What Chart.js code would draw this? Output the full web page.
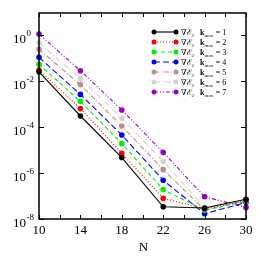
<!DOCTYPE html>
<html>
<head>
<meta charset="UTF-8">
<script src="https://cdn.jsdelivr.net/npm/chart.js"></script>
<style>
    html, body { margin: 0; padding: 0; background: #fff; }
    #wrap { width: 258px; height: 258px; }
</style>
</head>
<body>
<div id="wrap"><canvas id="c" width="258" height="258"></canvas></div>
<script>
// N values on the x axis
const nValues = [10, 14, 18, 22, 26, 30];
// gradient error for each k_max
const k1 = [0.025, 3.0e-4, 4.7e-6, 3.4e-8, 3.0e-8, 7.2e-8];
const k2 = [0.030, 6.3e-4, 7.2e-6, 7.9e-8, 2.8e-8, 6.3e-8];
const k3 = [0.053, 1.3e-3, 1.9e-5, 1.9e-7, 2.4e-8, 5.8e-8];
const k4 = [0.107, 2.6e-3, 4.5e-5, 4.8e-7, 1.7e-8, 5.2e-8];
const k5 = [0.24, 6.9e-3, 1.1e-4, 1.4e-6, 2.5e-8, 6.5e-8];
const k6 = [0.46, 0.0126, 2.4e-4, 3.2e-6, 3.2e-8, 5.8e-8];
const k7 = [1.1, 0.028, 5.5e-4, 7.9e-6, 9.3e-8, 3.2e-8];
const kLabels = ['1', '2', '3', '4', '5', '6', '7'];
// tick labels
const xTicks = [10, 14, 18, 22, 26, 30];
const yExps = [0, -2, -4, -6, -8];

const serif = '"Liberation Serif", "DejaVu Serif", serif';

const styles = [
    { color: '#000000', dash: [] },
    { color: '#ff0000', dash: [1, 2] },
    { color: '#00ee00', dash: [4, 3] },
    { color: '#0000ff', dash: [6, 3] },
    { color: '#bc8f8f', dash: [5, 2, 1, 2] },
    { color: '#d3d3d3', dash: [6, 2, 1, 2] },
    { color: '#9400d3', dash: [4, 2, 1, 2, 1, 2] }
];

function makeSet(vals, i) {
    return {
        label: 'kmax = ' + kLabels[i],
        data: nValues.map((n, j) => ({ x: n, y: vals[j] })),
        borderColor: styles[i].color,
        backgroundColor: styles[i].color,
        borderDash: styles[i].dash,
        borderWidth: 1.1,
        pointRadius: 2.8,
        pointBorderWidth: 0,
        pointHoverRadius: 2.8,
        clip: false,
        tension: 0
    };
}

const decor = {
    id: 'decor',
    afterDatasetsDraw(chart) {
        const ctx = chart.ctx;
        const a = chart.chartArea;
        const xs = chart.scales.x, ys = chart.scales.y;
        ctx.save();
        // frame
        ctx.strokeStyle = '#000';
        ctx.lineWidth = 1.5;
        ctx.setLineDash([]);
        ctx.strokeRect(a.left, a.top, a.right - a.left, a.bottom - a.top);
        // inward ticks
        ctx.lineWidth = 1;
        for (let v = 10; v <= 30; v += 2) {
            const px = Math.round(xs.getPixelForValue(v)) + 0.5;
            ctx.beginPath();
            ctx.moveTo(px, a.bottom); ctx.lineTo(px, a.bottom - 4);
            ctx.moveTo(px, a.top); ctx.lineTo(px, a.top + 4);
            ctx.stroke();
        }
        yExps.forEach(e => {
            const py = Math.round(ys.getPixelForValue(Math.pow(10, e))) + 0.5;
            ctx.beginPath();
            ctx.moveTo(a.left, py); ctx.lineTo(a.left + 5, py);
            ctx.moveTo(a.right, py); ctx.lineTo(a.right - 5, py);
            ctx.stroke();
        });
        // x tick labels
        ctx.fillStyle = '#000';
        ctx.font = '13px ' + serif;
        ctx.textAlign = 'center';
        ctx.textBaseline = 'alphabetic';
        xTicks.forEach(v => {
            ctx.fillText(String(v), xs.getPixelForValue(v), 234);
        });
        ctx.fillText('N', (a.left + a.right) / 2 + 1, 251);
        // y tick labels with superscripts
        yExps.forEach(e => {
            const py = ys.getPixelForValue(Math.pow(10, e));
            ctx.textAlign = 'right';
            ctx.font = '13px ' + serif;
            ctx.fillText('10', 26, py + 8);
            ctx.textAlign = 'left';
            ctx.font = '9px ' + serif;
            ctx.fillText(e === 0 ? '0' : '-' + (-e), 26.5, py + 1);
        });
        // legend
        chart.data.datasets.forEach((ds, i) => {
            const y = 32 + i * 10;
            ctx.strokeStyle = ds.borderColor;
            ctx.fillStyle = ds.borderColor;
            ctx.lineWidth = 1.1;
            ctx.setLineDash(ds.borderDash);
            ctx.beginPath();
            ctx.moveTo(154, y); ctx.lineTo(176, y);
            ctx.stroke();
            ctx.setLineDash([]);
            [154, 176].forEach(x => {
                ctx.beginPath();
                ctx.arc(x, y, 2.5, 0, Math.PI * 2);
                ctx.fill();
            });
            ctx.fillStyle = '#000';
            ctx.textAlign = 'left';
            let x = 181;
            ctx.font = '8px ' + serif;
            ctx.fillText('\u2207\u2130', x, y + 3);
            x += ctx.measureText('\u2207\u2130').width;
            ctx.font = '5px ' + serif;
            ctx.fillText('2', x, y + 5);
            x += ctx.measureText('2').width + 6;
            ctx.font = 'bold 8px ' + serif;
            ctx.fillText('k', x, y + 3);
            x += ctx.measureText('k').width;
            ctx.font = '5px ' + serif;
            ctx.fillText('max', x, y + 5);
            x += ctx.measureText('max').width + 2.5;
            ctx.font = '8px ' + serif;
            ctx.fillText('= ' + kLabels[i], x, y + 3);
        });
        ctx.restore();
    }
};

new Chart(document.getElementById('c'), {
    type: 'line',
    data: {
        datasets: [k1, k2, k3, k4, k5, k6, k7].map(makeSet)
    },
    options: {
        responsive: false,
        animation: false,
        layout: { padding: { left: 0, top: 13, right: 12, bottom: 0 } },
        plugins: { legend: { display: false }, tooltip: { enabled: false } },
        scales: {
            x: {
                type: 'linear', min: 10, max: 30,
                grid: { display: false },
                border: { display: false },
                ticks: { display: false },
                afterFit(s) { s.height = 39; }
            },
            y: {
                type: 'logarithmic', min: 1e-8, max: 9,
                grid: { display: false },
                border: { display: false },
                ticks: { display: false },
                afterFit(s) { s.width = 39; }
            }
        }
    },
    plugins: [decor]
});
</script>
</body>
</html>
